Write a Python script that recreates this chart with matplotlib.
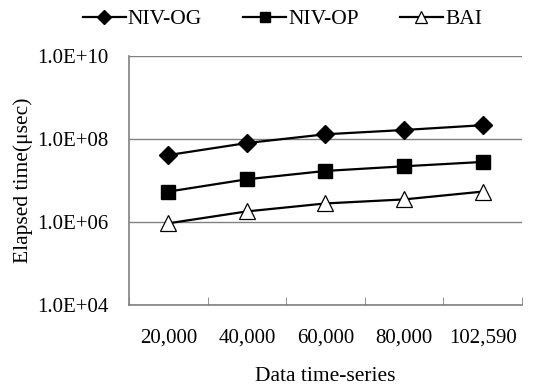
import numpy as np
import matplotlib.pyplot as plt
from matplotlib.ticker import FixedLocator, FuncFormatter

plt.rcParams['font.family'] = ['Liberation Serif', 'DejaVu Serif']

categories = ['20,000', '40,000', '60,000', '80,000', '102,590']
niv_og = [4.1e7, 8.0e7, 1.3e8, 1.65e8, 2.15e8]
niv_op = [5.4e6, 1.07e7, 1.7e7, 2.2e7, 2.8e7]
bai = [9.3e5, 1.8e6, 2.8e6, 3.5e6, 5.4e6]

x = np.arange(len(categories))

fig = plt.figure(figsize=(5.38, 3.89), dpi=100)
ax = fig.add_axes([0.240, 0.216, 0.730, 0.640])

ax.plot(x, niv_og, '-', color='black', lw=1.6, marker='D', ms=9,
        mfc='black', mec='black', label='NIV-OG', zorder=3)
ax.plot(x, niv_op, '-', color='black', lw=1.6, marker='s', ms=10,
        mfc='black', mec='black', label='NIV-OP', zorder=3)
ax.plot(x, bai, '-', color='black', lw=1.6, marker='^', ms=11,
        mfc='white', mec='black', mew=0.9, label='BAI', zorder=3)

ax.set_yscale('log')
ax.set_ylim(1e4, 1e10)
ax.set_xlim(-0.5, len(categories) - 0.5)

ax.yaxis.set_major_locator(FixedLocator([1e4, 1e6, 1e8, 1e10]))
ax.yaxis.set_minor_locator(FixedLocator([]))
ax.yaxis.set_major_formatter(FuncFormatter(lambda v, p: '1.0E+%02d' % round(np.log10(v))))
ax.tick_params(axis='y', length=0, pad=15, labelsize=15)

ax.set_xticks(x)
ax.set_xticklabels(categories)
ax.set_xticks(np.arange(len(categories) + 1) - 0.5, minor=True)
ax.tick_params(axis='x', which='major', length=0, pad=17, labelsize=15)
ax.tick_params(axis='x', which='minor', direction='in', length=6, color='#808080')

ax.grid(axis='y', which='major', color='#808080', lw=1.0)
ax.set_axisbelow(True)
for s in ['top', 'right']:
    ax.spines[s].set_visible(False)
for s in ['left', 'bottom']:
    ax.spines[s].set_color('#808080')
    ax.spines[s].set_linewidth(1.2)

ax.set_ylabel('Elapsed time(μsec)', fontsize=15.5, labelpad=3)
ax.set_xlabel('Data time-series', fontsize=15.5, labelpad=14)

ax.legend(loc='lower center', bbox_to_anchor=(0.39, 1.03), ncol=3, frameon=False,
          fontsize=15.5, handlelength=2.0, handletextpad=0.1, columnspacing=1.9,
          markerscale=0.75)

fig.savefig('out.png', dpi=100)
